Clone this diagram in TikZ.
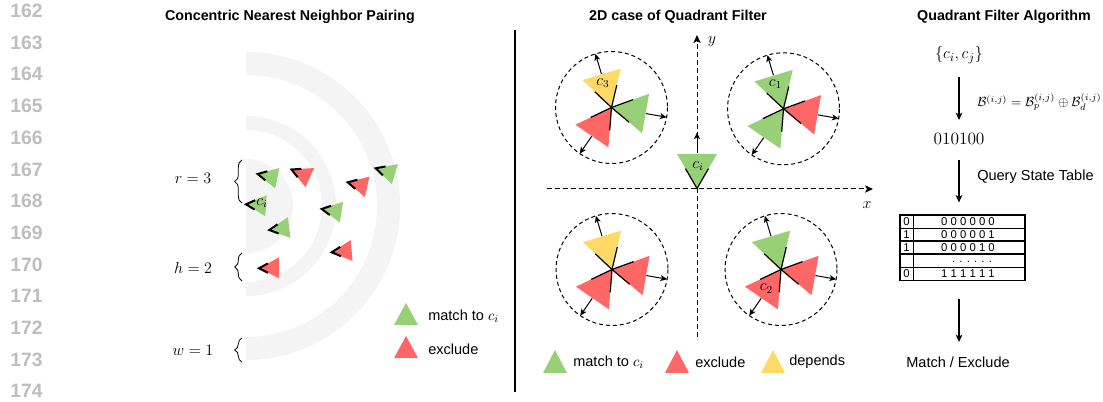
\documentclass[tikz,border=0pt]{standalone}
\usepackage{fontspec}
\newfontfamily\hv{Liberation Sans}
\usetikzlibrary{arrows.meta,decorations.pathreplacing,calc}
\definecolor{tgreen}{HTML}{97D077}
\definecolor{tred}{HTML}{FF6666}
\definecolor{tyellow}{HTML}{FFD966}
\definecolor{ringgray}{HTML}{F4F4F4}
\definecolor{lnogray}{HTML}{BEBEBE}
\begin{document}
\begin{tikzpicture}[x=0.75pt,y=-0.75pt,
  lnum/.style={font=\hv\bfseries\fontsize{14.5}{17}\selectfont, text=lnogray, anchor=west, inner sep=0pt},
  ttl/.style={font=\hv\bfseries\fontsize{10.7}{13}\selectfont, inner sep=0pt},
  lbl/.style={font=\fontsize{13}{15}\selectfont, inner sep=0pt},
  sml/.style={font=\fontsize{12}{14}\selectfont, inner sep=0pt},
  leg/.style={font=\hv\fontsize{10.9}{13}\selectfont, anchor=west, inner sep=0pt},
  tbt/.style={font=\hv\fontsize{8.5}{10}\selectfont, anchor=base, inner sep=0pt},
  brc/.style={decorate, decoration={brace, amplitude=5.5pt}, line width=0.6pt},
  arr/.style={line width=0.8pt, -{Stealth[length=5.5pt,width=5pt,inset=1.5pt]}},
  ax/.style={line width=0.75pt, dash pattern=on 3.5pt off 2.5pt, -{Stealth[length=6pt,width=5.5pt,inset=1.5pt]}},
  dcirc/.style={line width=0.75pt, dash pattern=on 3pt off 2.2pt},
  wline/.style={line width=0.9pt, black},
  warr/.style={line width=0.75pt, -{Stealth[length=5pt,width=4.5pt,inset=1.3pt]}},
  wedge/.pic={
    \fill[#1] (0,0) -- (34.6,-20) -- (34.6,20) -- cycle;
    \draw[wline] (19.9,-11.5) -- (0,0) -- (19.9,11.5);
    \draw[warr] (35,0) -- (56,0);
  },
  ltri/.pic={
    \fill[#1] (0,0) -- (20,-10.5) -- (20,10.5) -- cycle;
    \draw[line width=1.5pt, black] (8.85,-4.65) -- (0,0) -- (8.85,4.65);
  }
]
\useasboundingbox (0,0) rectangle (1103,402);
\fill[white] (0,0) rectangle (1103,402);

% line numbers
\foreach \n [count=\k from 0] in {162,...,174}
  \node[lnum] (ln\n) at (10,{11+31.67*\k}) {\n};

% titles
\node[ttl] (t1) at (290,17) {Concentric Nearest Neighbor Pairing};
\node[ttl] (t2) at (678,17) {2D case of Quadrant Filter};
\node[ttl] (t3) at (1004,17) {Quadrant Filter Algorithm};

% separator
\coordinate (s1) at (515,30);
\coordinate (s2) at (515,392);
\draw[line width=0.8pt] (s1) -- (s2);

% ---------- left panel ----------
\begin{scope}
  \clip (246,0) rectangle (512,402);
  \fill[ringgray, even odd rule] (246,206) circle[radius=154] (246,206) circle[radius=131];
  \fill[ringgray, even odd rule] (246,206) circle[radius=90] (246,206) circle[radius=76];
  \fill[ringgray] (246,206) circle[radius=47];
\end{scope}

\coordinate (b1a) at (242,203); \coordinate (b1b) at (242,160);
\coordinate (b2a) at (242,281); \coordinate (b2b) at (242,253);
\coordinate (b3a) at (242,362); \coordinate (b3b) at (242,338);
\draw[brc] (b1a) -- (b1b);
\draw[brc] (b2a) -- (b2b);
\draw[brc] (b3a) -- (b3b);
\node[lbl] (lr) at (193,178) {$r=3$};
\node[lbl] (lh) at (193,268) {$h=2$};
\node[lbl] (lw) at (193,350) {$w=1$};

\pic[rotate=-12] at (257.7,174) {ltri=tgreen};
\pic[rotate=-24] at (291.5,169.5) {ltri=tred};
\pic[rotate=-13] at (347.7,182.3) {ltri=tred};
\pic[rotate=-17] at (375.7,168.3) {ltri=tgreen};
\pic[rotate=-4] at (246,204.3) {ltri=tgreen};
\pic[rotate=-9] at (321.7,209) {ltri=tgreen};
\pic[rotate=7] at (269.3,230) {ltri=tgreen};
\pic[rotate=5] at (331.7,252.3) {ltri=tred};
\pic[rotate=1] at (259,268.3) {ltri=tred};
\node[sml] (lci) at (262,203) {$c_i$};

\fill[tgreen] (394,325) -- (406,303) -- (418,325) -- cycle;
\fill[tred] (394,358) -- (406,336) -- (418,358) -- cycle;
\node[leg] (lg1) at (428,316) {match to $c_i$};
\node[leg] (lg2) at (428,349) {exclude};

% ---------- middle panel ----------
\coordinate (xs) at (547,189); \coordinate (xe) at (873,189);
\coordinate (ys) at (697,337); \coordinate (ye) at (697,35);
\draw[ax] (xs) -- (xe);
\draw[ax] (ys) -- (ye);
\node[lbl] (xl) at (867,205) {$x$};
\node[lbl] (yl) at (712,42) {$y$};

\coordinate (h1) at (611.5,107.5);
\coordinate (h2) at (783.5,108.8);
\coordinate (h3) at (612,269.5);
\coordinate (h4) at (781,269.5);
\coordinate (o) at (697,188.5);

\draw[dcirc] (h1) circle[radius=56];
\draw[dcirc] (h2) circle[radius=56];
\draw[dcirc] (h3) circle[radius=56];
\draw[dcirc] (h4) circle[radius=56];

\pic[rotate=106.7] at (h1) {wedge=tyellow};
\pic[rotate=-10] at (h1) {wedge=tgreen};
\pic[rotate=235.5] at (h1) {wedge=tred};

\pic[rotate=106.7] at (h2) {wedge=tgreen};
\pic[rotate=-10] at (h2) {wedge=tred};
\pic[rotate=235.5] at (h2) {wedge=tgreen};

\pic[rotate=106.7] at (h3) {wedge=tyellow};
\pic[rotate=-10] at (h3) {wedge=tred};
\pic[rotate=235.5] at (h3) {wedge=tred};

\pic[rotate=106.7] at (h4) {wedge=tgreen};
\pic[rotate=-10] at (h4) {wedge=tred};
\pic[rotate=235.5] at (h4) {wedge=tred};

\pic[rotate=90] at (o) {wedge=tgreen};

\node[sml] (c3) at (603,83) {$c_3$};
\node[sml] (c1) at (775.5,84) {$c_1$};
\node[sml] (c2) at (766.5,288.5) {$c_2$};
\node[sml] (ci) at (698,166) {$c_i$};

\fill[tgreen] (543,373) -- (555,350) -- (567,373) -- cycle;
\fill[tred] (665,373) -- (677,350) -- (689,373) -- cycle;
\fill[tyellow] (761,373) -- (773,350) -- (785,373) -- cycle;
\node[leg] (mg1) at (573,362) {match to $c_i$};
\node[leg] (mg2) at (695,362) {exclude};
\node[leg] (mg3) at (789,362) {depends};

% ---------- right panel ----------
\node[lbl] (q1) at (959,55) {$\{c_i,c_j\}$};
\node[lbl] (q2) at (959,139) {010100};
\node[font=\fontsize{10.3}{12}\selectfont, anchor=west, inner sep=0pt] (fm) at (977,102)
  {$\mathcal{B}^{(i,j)}=\mathcal{B}_p^{(i,j)}\oplus\mathcal{B}_d^{(i,j)}$};
\node[leg] (qst) at (977,177) {Query State Table};
\node[draw, line width=0.9pt, minimum width=93.75pt, minimum height=49.3pt, inner sep=0pt] (tbl) at (962.5,247.85) {};
\node[leg, anchor=center] (q3) at (958,362) {Match / Exclude};

\foreach \yy in {228.3,241,254,267.3}
  \draw[line width=0.8pt] (tbl.west |- 0,\yy) -- (tbl.east |- 0,\yy);
\draw[line width=0.8pt] (913.3,0 |- tbl.north) -- (913.3,0 |- tbl.south);

\node[tbt] (r1a) at (906.6,225.6) {0};
\node[tbt] (r2a) at (906.6,238.6) {1};
\node[tbt] (r3a) at (906.6,251.4) {1};
\node[tbt] (r5a) at (906.6,277.9) {0};
\node[tbt] (r1b) at (968,225.6) {0 0 0 0 0 0};
\node[tbt] (r2b) at (968,238.6) {0 0 0 0 0 1};
\node[tbt] (r3b) at (968,251.4) {0 0 0 0 1 0};
\node[tbt] (r4b) at (972,262.5) {. . . . . .};
\node[tbt] (r5b) at (968,277.9) {1 1 1 1 1 1};

\draw[arr] ([yshift=-16.5pt]q1.center) -- ([yshift=14.25pt]q2.center);
\draw[arr] ([yshift=-15.75pt]q2.center) -- ([yshift=9pt]q2.center |- tbl.north);
\draw[arr] ([yshift=-13pt]q2.center |- tbl.south) -- ([yshift=15pt]q3.center -| q2.center);
\end{tikzpicture}
\end{document}
